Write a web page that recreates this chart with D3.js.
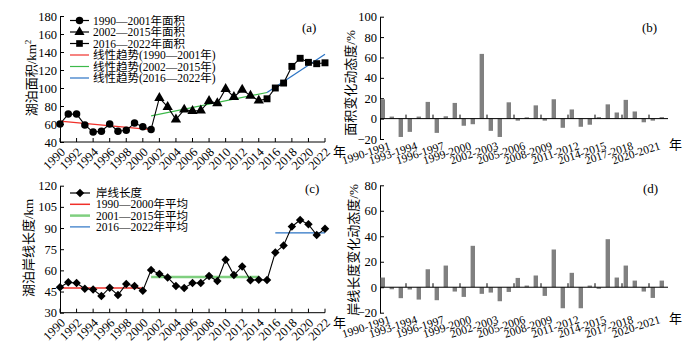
<!DOCTYPE html>
<html>
<head>
<meta charset="utf-8">
<script src="https://cdn.jsdelivr.net/npm/d3@7"></script>
<style>
  body { margin: 0; background: #fff; }
  svg { display: block; }
  text { font-family: "Liberation Serif", "Times New Roman", "Noto Sans CJK SC", serif; fill: #000; }
</style>
</head>
<body>
<svg id="chart" width="695" height="352"></svg>
<script>
// ---- data ----
const years = d3.range(1990, 2023);
const evenYears = years.filter((y) => y % 2 === 0);

// lake area (km2), 1990-2022
const areaValues = [60, 71, 71, 59, 51, 52, 60, 52, 53, 61, 57, 54,
  89, 79, 65, 76, 74.5, 75, 85.5, 83, 99, 90, 98, 91.5, 86,
  88, 100, 105.5, 124, 133, 128.5, 127, 128];
const areaGroups = [
  { label: "1990—2001年面积", from: 1990, to: 2001, symbol: d3.symbolCircle, size: 44 },
  { label: "2002—2015年面积", from: 2002, to: 2014, symbol: d3.symbolTriangle, size: 46 },
  { label: "2016—2022年面积", from: 2015, to: 2022, symbol: d3.symbolSquare, size: 48 },
];
const areaTrends = [
  { label: "线性趋势(1990—2001年)", color: "#f0302a", pts: [[1990, 63.3], [2001, 53.7]] },
  { label: "线性趋势(2002—2015年)", color: "#3cb94a", pts: [[2001, 69], [2015, 95]] },
  { label: "线性趋势(2016—2022年)", color: "#2a73c4", pts: [[2015, 95], [2022, 137.6]] },
];

// shoreline length (km), 1990-2022
const shoreValues = [48, 51.5, 51, 47, 46.5, 41.8, 47.7, 42.5, 50.3, 48.9, 45.6,
  60.2, 57.4, 55, 49, 47.5, 51, 51, 56, 52.4, 67.6, 56.7, 62.8, 53, 53.4, 53.1,
  72.7, 77.7, 91, 95.7, 92.6, 85, 89.5];
const shoreMeans = [
  { label: "1990—2000年平均", color: "#f0302a", width: 1.5, from: 1990, to: 2000, value: 47.5 },
  { label: "2001—2015年平均", color: "#7fcf7f", width: 2.5, from: 2001, to: 2014, value: 55.3 },
  { label: "2016—2022年平均", color: "#2a73c4", width: 1.2, from: 2016, to: 2022, value: 86.5 },
];

// yearly dynamic degree (%)
const periods = years.slice(0, -1).map((y) => `${y}-${y + 1}`);
const areaRate = [19, 2, -18, -13, 2, 16.4, -14, 2.3, 15.4, -7, -5.5, 63.5, -12, -18, 16,
  -2, 1.3, 13, -2, 19, -9, 9, -8, -6, 1.5, 14, 6, 18.4, 7, -3.6, -2, 1.5];
const shoreRate = [7.6, -1.6, -8.6, -1.8, -9.7, 14.1, -10.2, 17, -3.4, -7.6, 32.5, -5.2,
  -4.2, -11, -3.7, 7.3, 1.3, 9.2, -6.8, 29.6, -16.5, 11.3, -16.5, 1.3, -1.3, 37.7,
  7.6, 17, 5.2, -3.4, -8.4, 5.2];

const areaTicks = [40, 60, 80, 100, 120, 140, 160, 180];
const shoreTicks = [30, 45, 60, 75, 90, 105, 120];
const areaRateTicks = [-20, 0, 20, 40, 60, 80, 100];
const shoreRateTicks = [-20, 0, 20, 40, 60, 80];

// ---- drawing ----
const svg = d3.select("#chart");

function yAxis(g, y, ticks, x0) {
  const ax = g.append("g")
    .attr("transform", `translate(${x0},0)`)
    .call(d3.axisLeft(y).tickValues(ticks).tickSize(-4).tickSizeOuter(0).tickPadding(3));
  ax.attr("font-family", null).attr("font-size", null);
  ax.select(".domain").attr("stroke", "#000");
  ax.selectAll("text").style("font-size", "12.5px")
    .text((d) => (d < 0 ? "\u2212" + Math.abs(d) : d));
}

function yLabel(g, text, x, y) {
  g.append("text")
    .attr("transform", `translate(${x},${y}) rotate(-90)`)
    .attr("text-anchor", "middle")
    .style("font-size", "13px")
    .html(text);
}

function linePanel(opts) {
  const g = svg.append("g");
  const x = d3.scaleLinear().domain([1990, 2022]).range([60, 325]);
  const y = d3.scaleLinear().domain(opts.domain).range(opts.range);

  yAxis(g, y, opts.ticks, 60);

  // bottom axis with inward ticks
  const bottom = opts.range[0];
  g.append("line").attr("x1", 60).attr("x2", 325).attr("y1", bottom).attr("y2", bottom)
    .attr("stroke", "#000");
  g.selectAll("line.xt").data(evenYears).join("line").attr("class", "xt")
    .attr("x1", (d) => x(d)).attr("x2", (d) => x(d))
    .attr("y1", bottom).attr("y2", bottom - 4).attr("stroke", "#000");
  g.selectAll("text.xl").data(evenYears).join("text").attr("class", "xl")
    .attr("text-anchor", "end")
    .attr("transform", (d) => "translate(" + (x(d) + 3) + "," + (bottom + 8) + ") rotate(-45)")
    .attr("y", 4)
    .style("font-size", "12.5px")
    .text((d) => d);
  g.append("text").attr("x", 333).attr("y", bottom + 14).style("font-size", "13px").text("年");

  g.append("text").attr("x", opts.tagX).attr("y", opts.tagY).style("font-size", "13px").text(opts.tag);
  return { g, x, y };
}

function barPanel(opts) {
  const g = svg.append("g");
  const x = d3.scaleBand().domain(periods).range([380, 668]);
  const y = d3.scaleLinear().domain(opts.domain).range(opts.range);

  yAxis(g, y, opts.ticks, 380);

  g.selectAll("rect").data(opts.values).join("rect")
    .attr("x", (d, i) => x(periods[i]) + 0.6)
    .attr("width", 4.4)
    .attr("y", (d) => y(Math.max(0, d)))
    .attr("height", (d) => Math.abs(y(d) - y(0)))
    .attr("fill", "#808080");

  const y0 = y(0);
  g.append("line").attr("x1", 380).attr("x2", 668).attr("y1", y0).attr("y2", y0).attr("stroke", "#000");
  const tickIdx = d3.range(3, 32, 3);
  g.selectAll("line.xt").data(tickIdx).join("line").attr("class", "xt")
    .attr("x1", (i) => x(periods[i]) - 1).attr("x2", (i) => x(periods[i]) - 1)
    .attr("y1", y0).attr("y2", y0 - 4).attr("stroke", "#000");

  const bottom = opts.range[0];
  const labelIdx = d3.range(0, 32, 3);
  g.selectAll("text.xl").data(labelIdx).join("text").attr("class", "xl")
    .attr("text-anchor", "end")
    .attr("transform", (i) => "translate(" + (x(periods[i]) + 11) + "," + (bottom + 10) + ") rotate(-18)")
    .style("font-size", "11.5px")
    .text((i) => periods[i]);
  g.append("text").attr("x", 669).attr("y", bottom + 10).style("font-size", "13px").text("年");

  g.append("text").attr("x", opts.tagX).attr("y", opts.tagY).style("font-size", "13px").text(opts.tag);
  return { g, x, y };
}

// (a) lake area
const pa = linePanel({ domain: [40, 180], range: [142, 16], ticks: areaTicks, tag: "(a)", tagX: 302, tagY: 32 });
yLabel(pa.g, '湖泊面积/km<tspan dy="-5" font-size="9px">2</tspan>', 36, 78);

areaTrends.forEach((t) => {
  pa.g.append("path")
    .attr("d", d3.line().x((d) => pa.x(d[0])).y((d) => pa.y(d[1]))(t.pts))
    .attr("fill", "none").attr("stroke", t.color).attr("stroke-width", 1.2);
});
pa.g.append("path")
  .attr("d", d3.line().x((d, i) => pa.x(years[i])).y((d) => pa.y(d))(areaValues))
  .attr("fill", "none").attr("stroke", "#000").attr("stroke-width", 1.1);
areaGroups.forEach((grp) => {
  pa.g.selectAll(null)
    .data(years.filter((yr) => yr >= grp.from && yr <= grp.to))
    .join("path")
    .attr("transform", (yr) => `translate(${pa.x(yr)},${pa.y(areaValues[yr - 1990])})`)
    .attr("d", d3.symbol(grp.symbol, grp.size))
    .attr("fill", "#000");
});

// legend (a)
const legA = [...areaGroups.map((d) => ({ label: d.label, color: "#000", symbol: d.symbol })),
  ...areaTrends.map((d) => ({ label: d.label, color: d.color }))];
legA.forEach((d, i) => {
  const ly = 20.5 + i * 11.5;
  pa.g.append("line").attr("x1", 70).attr("x2", 89).attr("y1", ly).attr("y2", ly)
    .attr("stroke", d.color).attr("stroke-width", 1.2);
  if (d.symbol) {
    pa.g.append("path").attr("transform", `translate(79.5,${ly})`)
      .attr("d", d3.symbol(d.symbol, 44)).attr("fill", "#000");
  }
  pa.g.append("text").attr("x", 93).attr("y", ly + 4).style("font-size", "11.5px").text(d.label);
});

// (b) area dynamic degree
const pb = barPanel({ domain: [-20, 100], range: [139, 16.7], ticks: areaRateTicks, values: areaRate, tag: "(b)", tagX: 642, tagY: 32 });
yLabel(pb.g, "面积变化动态度/%", 355, 83);

// (c) shoreline length
const pc = linePanel({ domain: [30, 120], range: [312.7, 185.7], ticks: shoreTicks, tag: "(c)", tagX: 305, tagY: 193 });
yLabel(pc.g, "湖泊岸线长度/km", 33, 248);

shoreMeans.forEach((m) => {
  pc.g.append("line")
    .attr("x1", pc.x(m.from)).attr("x2", pc.x(m.to))
    .attr("y1", pc.y(m.value)).attr("y2", pc.y(m.value))
    .attr("stroke", m.color).attr("stroke-width", m.width);
});
pc.g.append("path")
  .attr("d", d3.line().x((d, i) => pc.x(years[i])).y((d) => pc.y(d))(shoreValues))
  .attr("fill", "none").attr("stroke", "#000").attr("stroke-width", 1.1);
pc.g.selectAll(null).data(shoreValues).join("path")
  .attr("transform", (d, i) => `translate(${pc.x(years[i])},${pc.y(d)})`)
  .attr("d", d3.symbol(d3.symbolDiamond2, 46))
  .attr("fill", "#000");

// legend (c)
const legC = [{ label: "岸线长度", color: "#000", width: 1.2, symbol: true }, ...shoreMeans];
legC.forEach((d, i) => {
  const ly = 193 + i * 11.3;
  pc.g.append("line").attr("x1", 70).attr("x2", 90).attr("y1", ly).attr("y2", ly)
    .attr("stroke", d.color).attr("stroke-width", d.width);
  if (d.symbol) {
    pc.g.append("path").attr("transform", `translate(80,${ly})`)
      .attr("d", d3.symbol(d3.symbolDiamond2, 46)).attr("fill", "#000");
  }
  pc.g.append("text").attr("x", 96).attr("y", ly + 4).style("font-size", "11.5px").text(d.label);
});

// (d) shoreline dynamic degree
const pd = barPanel({ domain: [-20, 80], range: [312.7, 185.3], ticks: shoreRateTicks, values: shoreRate, tag: "(d)", tagX: 643, tagY: 193 });
yLabel(pd.g, "岸线长度变化动态度/%", 358, 250);
</script>
</body>
</html>
